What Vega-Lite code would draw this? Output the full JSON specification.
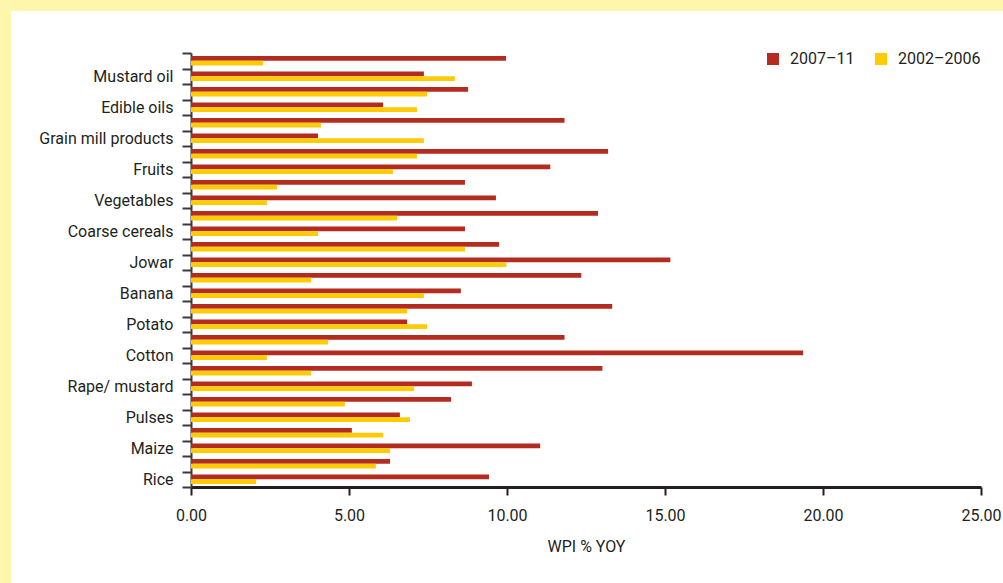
{
  "$schema": "https://vega.github.io/schema/vega-lite/v6.json",
  "width": 992,
  "height": 572,
  "autosize": {"type": "none"},
  "padding": {"left": 11, "top": 11, "right": 0, "bottom": 0},
  "background": "#fff6ae",
  "config": {
    "view": {"fill": "#ffffff", "stroke": null},
    "font": "Roboto",
    "axis": {"labelFont": "Roboto", "titleFont": "Roboto", "labelColor": "#231f20", "titleColor": "#231f20", "grid": false},
    "legend": {"labelFont": "Roboto", "labelColor": "#231f20"}
  },
  "data": {
    "values": [
      {"row": 0, "period": "2007–11", "wpi": 9.43}, {"row": 0, "period": "2002–2006", "wpi": 2.06},
      {"row": 1, "period": "2007–11", "wpi": 6.30}, {"row": 1, "period": "2002–2006", "wpi": 5.85},
      {"row": 2, "period": "2007–11", "wpi": 11.05}, {"row": 2, "period": "2002–2006", "wpi": 6.30},
      {"row": 3, "period": "2007–11", "wpi": 5.09}, {"row": 3, "period": "2002–2006", "wpi": 6.08},
      {"row": 4, "period": "2007–11", "wpi": 6.61}, {"row": 4, "period": "2002–2006", "wpi": 6.93},
      {"row": 5, "period": "2007–11", "wpi": 8.23}, {"row": 5, "period": "2002–2006", "wpi": 4.87},
      {"row": 6, "period": "2007–11", "wpi": 8.89}, {"row": 6, "period": "2002–2006", "wpi": 7.06},
      {"row": 7, "period": "2007–11", "wpi": 13.02}, {"row": 7, "period": "2002–2006", "wpi": 3.80},
      {"row": 8, "period": "2007–11", "wpi": 19.37}, {"row": 8, "period": "2002–2006", "wpi": 2.40},
      {"row": 9, "period": "2007–11", "wpi": 11.82}, {"row": 9, "period": "2002–2006", "wpi": 4.34},
      {"row": 10, "period": "2007–11", "wpi": 6.84}, {"row": 10, "period": "2002–2006", "wpi": 7.47},
      {"row": 11, "period": "2007–11", "wpi": 13.33}, {"row": 11, "period": "2002–2006", "wpi": 6.84},
      {"row": 12, "period": "2007–11", "wpi": 8.54}, {"row": 12, "period": "2002–2006", "wpi": 7.37},
      {"row": 13, "period": "2007–11", "wpi": 12.35}, {"row": 13, "period": "2002–2006", "wpi": 3.80},
      {"row": 14, "period": "2007–11", "wpi": 15.17}, {"row": 14, "period": "2002–2006", "wpi": 9.98},
      {"row": 15, "period": "2007–11", "wpi": 9.75}, {"row": 15, "period": "2002–2006", "wpi": 8.67},
      {"row": 16, "period": "2007–11", "wpi": 8.67}, {"row": 16, "period": "2002–2006", "wpi": 4.02},
      {"row": 17, "period": "2007–11", "wpi": 12.88}, {"row": 17, "period": "2002–2006", "wpi": 6.52},
      {"row": 18, "period": "2007–11", "wpi": 9.65}, {"row": 18, "period": "2002–2006", "wpi": 2.40},
      {"row": 19, "period": "2007–11", "wpi": 8.67}, {"row": 19, "period": "2002–2006", "wpi": 2.72},
      {"row": 20, "period": "2007–11", "wpi": 11.37}, {"row": 20, "period": "2002–2006", "wpi": 6.39},
      {"row": 21, "period": "2007–11", "wpi": 13.20}, {"row": 21, "period": "2002–2006", "wpi": 7.15},
      {"row": 22, "period": "2007–11", "wpi": 4.02}, {"row": 22, "period": "2002–2006", "wpi": 7.37},
      {"row": 23, "period": "2007–11", "wpi": 11.82}, {"row": 23, "period": "2002–2006", "wpi": 4.11},
      {"row": 24, "period": "2007–11", "wpi": 6.08}, {"row": 24, "period": "2002–2006", "wpi": 7.15},
      {"row": 25, "period": "2007–11", "wpi": 8.77}, {"row": 25, "period": "2002–2006", "wpi": 7.47},
      {"row": 26, "period": "2007–11", "wpi": 7.37}, {"row": 26, "period": "2002–2006", "wpi": 8.35},
      {"row": 27, "period": "2007–11", "wpi": 9.97}, {"row": 27, "period": "2002–2006", "wpi": 2.28}
    ]
  },
  "mark": {"type": "bar", "cornerRadius": 0},
  "encoding": {
    "y": {
      "field": "row",
      "type": "ordinal",
      "sort": "descending",
      "scale": {"range": [42, 476], "paddingInner": 0, "paddingOuter": 0},
      "axis": {
        "title": null,
        "offset": -180,
        "tickBand": "extent",
        "tickSize": 9,
        "tickWidth": 2,
        "tickColor": "#3a3a3a",
        "domainColor": "#3a3a3a",
        "domainWidth": 2,
        "labelFontSize": 16,
        "labelFontWeight": "normal",
        "labelPadding": 9,
        "labelExpr": "['Rice', '', 'Maize', '', 'Pulses', '', 'Rape/ mustard', '', 'Cotton', '', 'Potato', '', 'Banana', '', 'Jowar', '', 'Coarse cereals', '', 'Vegetables', '', 'Fruits', '', 'Grain mill products', '', 'Edible oils', '', 'Mustard oil', ''][datum.value]"
      }
    },
    "yOffset": {
      "field": "period",
      "sort": ["2007–11", "2002–2006"],
      "scale": {"paddingInner": 0, "paddingOuter": 0.6}
    },
    "x": {
      "field": "wpi",
      "type": "quantitative",
      "scale": {"domain": [0, 25], "range": [180, 970], "nice": false},
      "axis": {
        "title": "WPI % YOY",
        "titleFontSize": 16,
        "titleFontWeight": "normal",
        "titlePadding": 15,
        "offset": -96,
        "values": [0, 5, 10, 15, 20, 25],
        "format": ".2f",
        "tickSize": 8,
        "tickWidth": 2,
        "tickColor": "#231f20",
        "domainColor": "#231f20",
        "domainWidth": 3,
        "labelFontSize": 16,
        "labelFontWeight": "normal",
        "labelPadding": 12,
        "labelFlush": false
      }
    },
    "color": {
      "field": "period",
      "type": "nominal",
      "scale": {"domain": ["2007–11", "2002–2006"], "range": ["#b42b20", "#ffcb05"]},
      "legend": {
        "title": null,
        "orient": "none",
        "direction": "horizontal",
        "legendX": 754,
        "legendY": 40,
        "padding": 0,
        "symbolType": "square",
        "symbolSize": 144,
        "symbolStrokeWidth": 0,
        "labelFontSize": 16,
        "labelFontWeight": "normal",
        "labelOffset": 9,
        "columnPadding": 18
      }
    }
  }
}
